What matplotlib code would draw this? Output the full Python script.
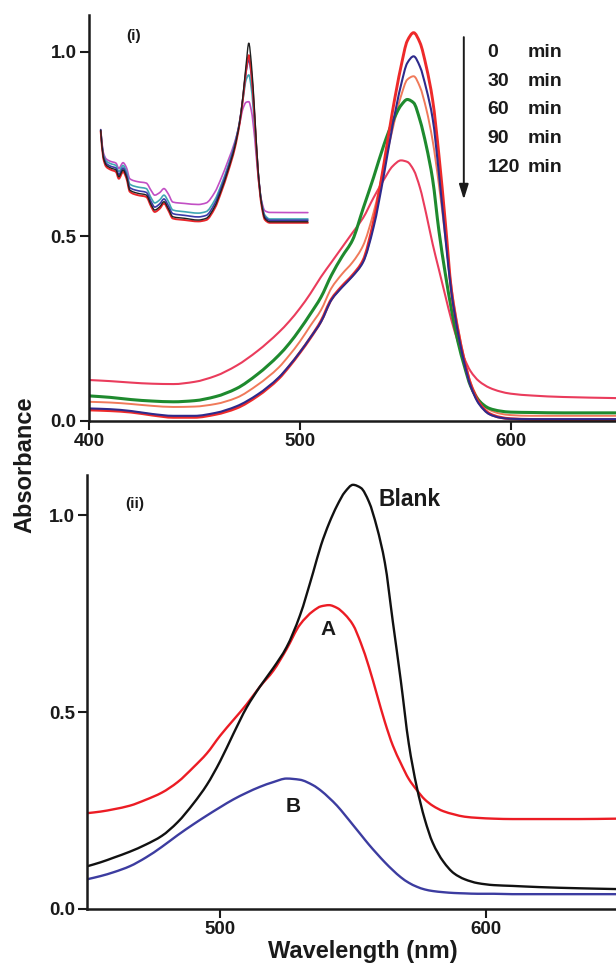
import numpy as np
import matplotlib
matplotlib.use('Agg')
import matplotlib.pyplot as plt
from matplotlib.path import Path
from matplotlib.patches import PathPatch
from matplotlib.ticker import FormatStrFormatter

plt.rcParams['font.family'] = ['Liberation Sans', 'DejaVu Sans']
plt.rcParams['font.weight'] = 'bold'

# (i) time series of absorption spectra
wl_top = [400, 410, 420, 430, 440, 450, 460, 470, 480, 490, 495, 500, 505, 510, 515,
          520, 525, 530, 535, 540, 544, 548, 551, 554, 557, 560, 563, 566, 569, 572,
          575, 578, 581, 585, 590, 595, 600, 610, 625, 650]

abs_0min = [0.030, 0.028, 0.024, 0.016, 0.010, 0.010, 0.018, 0.035, 0.068, 0.115, 0.148,
            0.185, 0.225, 0.270, 0.330, 0.365, 0.395, 0.435, 0.540, 0.700, 0.840, 0.960,
            1.030, 1.052, 1.025, 0.960, 0.870, 0.720, 0.540, 0.350, 0.245, 0.165, 0.100,
            0.050, 0.020, 0.010, 0.006, 0.004, 0.003, 0.003]
abs_30min = [0.034, 0.032, 0.027, 0.019, 0.014, 0.014, 0.022, 0.040, 0.072, 0.118, 0.150,
             0.186, 0.226, 0.268, 0.328, 0.362, 0.392, 0.430, 0.525, 0.670, 0.800, 0.910,
             0.970, 0.988, 0.960, 0.900, 0.820, 0.670, 0.500, 0.345, 0.240, 0.158, 0.095,
             0.046, 0.018, 0.009, 0.006, 0.005, 0.005, 0.005]
abs_60min = [0.052, 0.050, 0.046, 0.041, 0.038, 0.039, 0.046, 0.063, 0.098, 0.145, 0.178,
             0.215, 0.258, 0.300, 0.360, 0.398, 0.430, 0.475, 0.565, 0.690, 0.790, 0.880,
             0.925, 0.934, 0.905, 0.845, 0.760, 0.640, 0.500, 0.360, 0.255, 0.170, 0.105,
             0.058, 0.030, 0.020, 0.016, 0.014, 0.014, 0.014]
abs_90min = [0.068, 0.064, 0.058, 0.054, 0.052, 0.055, 0.066, 0.088, 0.127, 0.178, 0.210,
             0.248, 0.290, 0.335, 0.395, 0.445, 0.490, 0.575, 0.660, 0.750, 0.810, 0.855,
             0.871, 0.862, 0.815, 0.745, 0.655, 0.515, 0.400, 0.300, 0.215, 0.150, 0.095,
             0.055, 0.034, 0.027, 0.024, 0.023, 0.022, 0.022]
abs_120min = [0.111, 0.108, 0.104, 0.101, 0.100, 0.106, 0.122, 0.150, 0.190, 0.240, 0.270,
              0.305, 0.345, 0.390, 0.430, 0.470, 0.510, 0.550, 0.605, 0.655, 0.690, 0.706,
              0.702, 0.680, 0.632, 0.560, 0.480, 0.410, 0.340, 0.272, 0.215, 0.170, 0.135,
              0.108, 0.090, 0.080, 0.074, 0.069, 0.065, 0.062]

times = ['0', '30', '60', '90', '120']

# small inset spectra drawn inside panel (i)
wl_inset = [204, 210, 217, 228, 240, 247, 257, 265, 273, 292, 312, 324, 332, 344, 354,
            364, 375, 403, 435, 454, 474, 490, 506, 522, 533, 541, 549, 555, 561, 569,
            577, 585, 593, 605, 695]
inset_black = [0.567, 0.413, 0.365, 0.347, 0.336, 0.297, 0.336, 0.297, 0.220, 0.201, 0.191,
               0.133, 0.104, 0.123, 0.152, 0.114, 0.065, 0.056, 0.046, 0.056, 0.123, 0.220,
               0.336, 0.471, 0.606, 0.760, 0.954, 1.070, 0.954, 0.664, 0.336, 0.143, 0.056,
               0.036, 0.036]
inset_red = [0.560, 0.405, 0.355, 0.337, 0.325, 0.285, 0.325, 0.287, 0.210, 0.190, 0.180,
             0.122, 0.093, 0.112, 0.142, 0.103, 0.055, 0.046, 0.038, 0.046, 0.112, 0.210,
             0.326, 0.462, 0.600, 0.745, 0.920, 1.000, 0.900, 0.630, 0.320, 0.133, 0.048,
             0.030, 0.030]
inset_blue = [0.567, 0.420, 0.375, 0.357, 0.347, 0.310, 0.347, 0.310, 0.234, 0.216, 0.206,
              0.150, 0.121, 0.140, 0.168, 0.131, 0.083, 0.073, 0.064, 0.073, 0.140, 0.236,
              0.350, 0.483, 0.612, 0.752, 0.910, 0.973, 0.885, 0.625, 0.330, 0.150, 0.064,
              0.045, 0.045]
inset_teal = [0.567, 0.430, 0.388, 0.372, 0.362, 0.327, 0.362, 0.328, 0.254, 0.237, 0.228,
              0.172, 0.145, 0.163, 0.190, 0.155, 0.104, 0.094, 0.086, 0.095, 0.160, 0.252,
              0.362, 0.490, 0.612, 0.740, 0.860, 0.886, 0.810, 0.585, 0.320, 0.155, 0.075,
              0.052, 0.052]
inset_magenta = [0.570, 0.440, 0.400, 0.385, 0.376, 0.345, 0.378, 0.350, 0.285, 0.268, 0.260,
                 0.215, 0.190, 0.205, 0.228, 0.198, 0.150, 0.142, 0.136, 0.145, 0.205, 0.290,
                 0.390, 0.500, 0.600, 0.690, 0.728, 0.731, 0.680, 0.520, 0.300, 0.160, 0.100,
                 0.090, 0.089]

# (ii) blank vs samples A and B
wl_bot = [450, 455, 460, 466, 472, 478, 484, 490, 495, 500, 505, 510, 515, 520, 525, 530,
          535, 538, 541, 544, 547, 550, 553, 556, 559, 562, 565, 568, 571, 574, 577, 580,
          584, 588, 592, 597, 603, 610, 620, 635, 649]
abs_blank = [0.108, 0.118, 0.130, 0.145, 0.163, 0.185, 0.220, 0.268, 0.315, 0.375, 0.445,
             0.512, 0.565, 0.612, 0.665, 0.745, 0.855, 0.925, 0.980, 1.025, 1.060, 1.078,
             1.070, 1.035, 0.970, 0.880, 0.730, 0.580, 0.420, 0.310, 0.228, 0.168, 0.120,
             0.090, 0.075, 0.065, 0.060, 0.058, 0.055, 0.052, 0.050]
abs_A = [0.243, 0.247, 0.253, 0.262, 0.277, 0.295, 0.322, 0.360, 0.395, 0.440, 0.480,
         0.520, 0.565, 0.605, 0.660, 0.722, 0.757, 0.769, 0.772, 0.765, 0.748, 0.722,
         0.675, 0.615, 0.545, 0.475, 0.415, 0.370, 0.330, 0.302, 0.278, 0.262, 0.248,
         0.240, 0.234, 0.231, 0.229, 0.228, 0.228, 0.228, 0.229]
abs_B = [0.075, 0.083, 0.093, 0.108, 0.130, 0.157, 0.187, 0.215, 0.237, 0.258, 0.278,
         0.295, 0.310, 0.322, 0.331, 0.328, 0.314, 0.300, 0.282, 0.262, 0.238, 0.213,
         0.188, 0.163, 0.140, 0.118, 0.098, 0.080, 0.066, 0.056, 0.049, 0.045, 0.042,
         0.040, 0.039, 0.038, 0.038, 0.037, 0.037, 0.037, 0.037]

ink = '#1a1a1a'


def hermite_slopes(x, y):
    # monotone (Fritsch-Carlson) tangents so the curve never overshoots a reading
    h = np.diff(x)
    d = np.diff(y) / h
    m = np.zeros_like(y)
    for i in range(1, len(x) - 1):
        if d[i - 1] * d[i] > 0:
            w1 = 2 * h[i] + h[i - 1]
            w2 = h[i] + 2 * h[i - 1]
            m[i] = (w1 + w2) / (w1 / d[i - 1] + w2 / d[i])
    m[0] = d[0]
    m[-1] = d[-1]
    return m


def spectrum(ax, x, y, **kw):
    # draw the readings as one smooth bezier path through every point
    x = np.asarray(x, float)
    y = np.asarray(y, float)
    m = hermite_slopes(x, y)
    verts = [(x[0], y[0])]
    codes = [Path.MOVETO]
    for i in range(len(x) - 1):
        h = x[i + 1] - x[i]
        verts += [(x[i] + h / 3, y[i] + m[i] * h / 3),
                  (x[i + 1] - h / 3, y[i + 1] - m[i + 1] * h / 3),
                  (x[i + 1], y[i + 1])]
        codes += [Path.CURVE4] * 3
    ax.add_patch(PathPatch(Path(verts, codes), fill=False, capstyle='round',
                           joinstyle='round', **kw))


fig = plt.figure(figsize=(6.16, 9.66), dpi=100)
ax1 = fig.add_axes([0.1445, 0.5642, 0.8555, 0.4203])
ax2 = fig.add_axes([0.1417, 0.0593, 0.8583, 0.4490])


def style_axes(ax):
    for side in ['top', 'right']:
        ax.spines[side].set_visible(False)
    for side in ['left', 'bottom']:
        ax.spines[side].set_linewidth(1.8)
        ax.spines[side].set_color(ink)
    ax.tick_params(direction='out', length=6.5, width=1.5, colors=ink,
                   labelsize=13.5, pad=2.5)
    for lab in ax.get_xticklabels() + ax.get_yticklabels():
        lab.set_fontweight('bold')
    ax.yaxis.set_major_formatter(FormatStrFormatter('%.1f'))


# panel (i)
spectrum(ax1, wl_top, abs_120min, edgecolor='#ea3c5c', lw=1.5)
spectrum(ax1, wl_top, abs_60min, edgecolor='#f07a5a', lw=1.4)
spectrum(ax1, wl_top, abs_90min, edgecolor='#1e8a2e', lw=2.2)
spectrum(ax1, wl_top, abs_0min, edgecolor='#ee2a2a', lw=2.1)
spectrum(ax1, wl_top, abs_30min, edgecolor='#2e2a8c', lw=1.5)
ax1.set_xlim(400, 650)
ax1.set_ylim(0, 1.10)
ax1.set_xticks([400, 500, 600])
ax1.set_yticks([0.0, 0.5, 1.0])
style_axes(ax1)
ax1.text(421, 1.043, '(i)', fontsize=11, fontweight='bold', color=ink,
         ha='center', va='center')

# time labels beside the arrow
row_y = [0.999, 0.921, 0.843, 0.764, 0.686]
for t, y in zip(times, row_y):
    ax1.text(589, y, t, fontsize=14, fontweight='bold', color=ink, ha='left', va='center')
    ax1.text(608, y, 'min', fontsize=14, fontweight='bold', color=ink, ha='left', va='center')
ax1.annotate('', xy=(577.8, 0.600), xytext=(577.8, 1.040),
             arrowprops=dict(arrowstyle='-|>,head_length=0.9,head_width=0.28',
                             color=ink, lw=1.4, shrinkA=0, shrinkB=0))

# inset spectra
axin = fig.add_axes([0.1607, 0.7640, 0.3425, 0.1967])
spectrum(axin, wl_inset, inset_magenta, edgecolor='#c24fc4', lw=1.2)
spectrum(axin, wl_inset, inset_teal, edgecolor='#3fa7b3', lw=1.2)
spectrum(axin, wl_inset, inset_blue, edgecolor='#3a3aa8', lw=1.2)
spectrum(axin, wl_inset, inset_red, edgecolor='#e8252a', lw=1.4)
spectrum(axin, wl_inset, inset_black, edgecolor='#202020', lw=1.0)
axin.set_xlim(200, 700)
axin.set_ylim(0, 1.1)
axin.axis('off')
axin.patch.set_alpha(0)

# panel (ii)
spectrum(ax2, wl_bot, abs_B, edgecolor='#3c3ca0', lw=1.7)
spectrum(ax2, wl_bot, abs_A, edgecolor='#ec1c24', lw=1.7)
spectrum(ax2, wl_bot, abs_blank, edgecolor='#111111', lw=1.7)
ax2.set_xlim(450, 649)
ax2.set_ylim(0, 1.103)
ax2.set_xticks([500, 600])
ax2.set_yticks([0.0, 0.5, 1.0])
style_axes(ax2)
ax2.text(468, 1.03, '(ii)', fontsize=11, fontweight='bold', color=ink,
         ha='center', va='center')
ax2.text(571.4, 1.04, 'Blank', fontsize=16.5, fontweight='bold', color=ink,
         ha='center', va='center')
ax2.text(540.6, 0.71, 'A', fontsize=15, fontweight='bold', color=ink,
         ha='center', va='center')
ax2.text(527.6, 0.261, 'B', fontsize=15, fontweight='bold', color=ink,
         ha='center', va='center')
ax2.set_xlabel('Wavelength (nm)', fontsize=17, fontweight='bold', color=ink)
ax2.xaxis.label.set_va('center')
ax2.xaxis.set_label_coords(0.5215, -0.0975)

fig.text(0.041, 0.5186, 'Absorbance', rotation=90, fontsize=17, fontweight='bold',
         color=ink, ha='center', va='center')

fig.savefig('out.png', dpi=100)
